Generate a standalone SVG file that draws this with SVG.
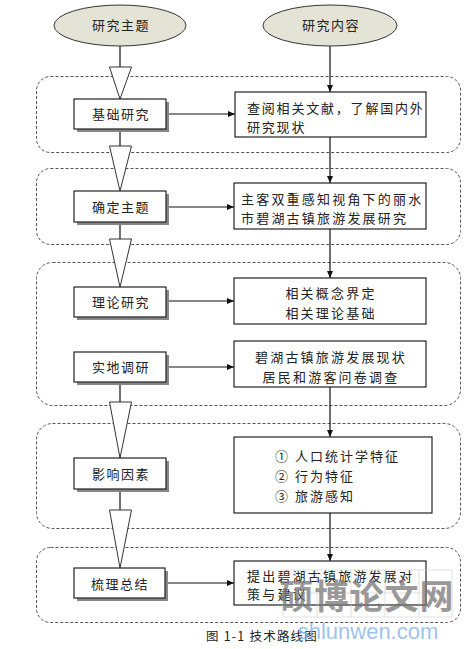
<svg xmlns="http://www.w3.org/2000/svg" width="472" height="649" viewBox="0 0 472 649">
<defs>
<style>
.t{font-family:"Noto Sans CJK SC","Liberation Serif",serif;font-size:13px;fill:#222;letter-spacing:1.5px}
.c{text-anchor:middle}
.grp{fill:none;stroke:#555;stroke-width:1;stroke-dasharray:3,2}
.box{fill:#fff;stroke:#222;stroke-width:1.2}
.sh{fill:#888}
.ln{stroke:#111;stroke-width:1.2;fill:none}
.tri{fill:#fff;stroke:#333;stroke-width:1}
.ell{fill:#e4e4d6;stroke:#333;stroke-width:1}
</style>
<marker id="ah" markerWidth="8" markerHeight="8" refX="7" refY="4" orient="auto" markerUnits="userSpaceOnUse">
<path d="M0,1 L7,4 L0,7 z" fill="#111"/>
</marker>
</defs>
<rect width="472" height="649" fill="#fff"/>

<g id="groups">
<rect class="grp" x="36.5" y="76.5" width="424" height="76" rx="14"/>
<rect class="grp" x="36.5" y="168.5" width="424" height="76" rx="14"/>
<rect class="grp" x="36.5" y="262.5" width="424" height="143" rx="16"/>
<rect class="grp" x="36.5" y="423.5" width="424" height="105" rx="16"/>
<rect class="grp" x="36.5" y="547.5" width="424" height="75" rx="14"/>
</g>

<g id="connectors">
<line class="ln" x1="120" y1="46" x2="120" y2="67"/>
<line class="ln" x1="120" y1="129" x2="120" y2="146"/>
<line class="ln" x1="120" y1="222" x2="120" y2="239"/>
<line class="ln" x1="120" y1="382" x2="120" y2="402"/>
<line class="ln" x1="120" y1="489" x2="120" y2="510"/>
<polygon class="tri" points="109.5,67 131.5,67 120,99"/>
<polygon class="tri" points="109.5,146 131.5,146 120,191"/>
<polygon class="tri" points="109.5,239 131.5,239 120,287"/>
<polygon class="tri" points="109.5,402 131.5,402 120,458"/>
<polygon class="tri" points="109.5,510 131.5,510 120,568"/>
<line class="ln" x1="330" y1="46" x2="330" y2="92" marker-end="url(#ah)"/>
<line class="ln" x1="330" y1="137" x2="330" y2="183" marker-end="url(#ah)"/>
<line class="ln" x1="330" y1="229" x2="330" y2="278" marker-end="url(#ah)"/>
<line class="ln" x1="330" y1="387" x2="330" y2="437" marker-end="url(#ah)"/>
<line class="ln" x1="330" y1="513" x2="330" y2="561" marker-end="url(#ah)"/>
<line class="ln" x1="166" y1="114" x2="235" y2="114" marker-end="url(#ah)"/>
<line class="ln" x1="166" y1="207" x2="234" y2="207" marker-end="url(#ah)"/>
<line class="ln" x1="166" y1="301" x2="234" y2="301" marker-end="url(#ah)"/>
<line class="ln" x1="166" y1="367" x2="234" y2="367" marker-end="url(#ah)"/>
<line class="ln" x1="166" y1="583" x2="234" y2="583" marker-end="url(#ah)"/>
</g>

<g id="topic">
<ellipse class="ell" cx="120" cy="25.5" rx="66" ry="20.5"/>
<text class="t c" x="121" y="30">研究主题</text>
</g>
<g id="content">
<ellipse class="ell" cx="330" cy="25.5" rx="67" ry="20.5"/>
<text class="t c" x="331" y="30">研究内容</text>
</g>

<g id="n1">
<rect class="sh" x="77" y="102" width="92" height="30"/>
<rect class="box" x="74" y="99" width="92" height="30"/>
<text class="t c" x="121" y="119">基础研究</text>
</g>
<g id="r1">
<rect class="box" x="235" y="92" width="191" height="45"/>
<text class="t" x="247" y="113" style="letter-spacing:1.8px">查阅相关文献，了解国内外</text>
<text class="t" x="247" y="132" style="letter-spacing:1.8px">研究现状</text>
</g>

<g id="n2">
<rect class="sh" x="77" y="194" width="92" height="31"/>
<rect class="box" x="74" y="191" width="92" height="31"/>
<text class="t c" x="121" y="212">确定主题</text>
</g>
<g id="r2">
<rect class="box" x="234" y="183" width="192" height="46"/>
<text class="t" x="241" y="204" style="letter-spacing:2.2px">主客双重感知视角下的丽水</text>
<text class="t" x="241" y="223" style="letter-spacing:2.2px">市碧湖古镇旅游发展研究</text>
</g>

<g id="n3">
<rect class="sh" x="77" y="290" width="92" height="30"/>
<rect class="box" x="74" y="287" width="92" height="30"/>
<text class="t c" x="121" y="307">理论研究</text>
</g>
<g id="r3">
<rect class="box" x="234" y="278" width="192" height="46"/>
<text class="t c" x="331" y="298" style="letter-spacing:2.2px">相关概念界定</text>
<text class="t c" x="331" y="318" style="letter-spacing:2.2px">相关理论基础</text>
</g>

<g id="n4">
<rect class="sh" x="77" y="355" width="92" height="30"/>
<rect class="box" x="74" y="352" width="92" height="30"/>
<text class="t c" x="121" y="372">实地调研</text>
</g>
<g id="r4">
<rect class="box" x="234" y="341" width="192" height="46"/>
<text class="t c" x="331" y="362" style="letter-spacing:2.2px">碧湖古镇旅游发展现状</text>
<text class="t c" x="331" y="382" style="letter-spacing:2.2px">居民和游客问卷调查</text>
</g>

<g id="n5">
<rect class="sh" x="77" y="461" width="92" height="31"/>
<rect class="box" x="74" y="458" width="92" height="31"/>
<text class="t c" x="121" y="479">影响因素</text>
</g>
<g id="r5">
<rect class="box" x="234" y="437" width="198" height="76"/>
<text class="t" x="275" y="461" style="letter-spacing:2px">① 人口统计学特征</text>
<text class="t" x="275" y="481" style="letter-spacing:2px">② 行为特征</text>
<text class="t" x="275" y="501" style="letter-spacing:2px">③ 旅游感知</text>
</g>

<g id="n6">
<rect class="sh" x="77" y="571" width="91" height="30"/>
<rect class="box" x="74" y="568" width="91" height="30"/>
<text class="t c" x="120" y="589">梳理总结</text>
</g>
<g id="r6">
<rect class="box" x="234" y="561" width="192" height="44"/>
<text class="t" x="247" y="581" style="letter-spacing:2.2px">提出碧湖古镇旅游发展对</text>
<text class="t" x="247" y="599" style="letter-spacing:2.2px">策与建议</text>
</g>

<g id="caption">
<text x="262" y="641" text-anchor="middle" style="font-family:'Noto Sans CJK SC','Liberation Serif',serif;font-size:12.5px;fill:#222;letter-spacing:1.2px">图 1-1 技术路线图</text>
</g>

<g id="watermark" opacity="0.75">
<g fill="none" stroke="#ccc" stroke-width="0.8">
<rect x="283" y="570" width="169" height="47"/>
<line x1="317" y1="570" x2="317" y2="617"/>
<line x1="351" y1="570" x2="351" y2="617"/>
<line x1="385" y1="570" x2="385" y2="617"/>
<line x1="419" y1="570" x2="419" y2="617"/>
<line x1="283" y1="593" x2="452" y2="593"/>
</g>
<text x="367" y="609" text-anchor="middle" style="font-family:'Noto Sans CJK SC',sans-serif;font-size:34px;font-weight:bold;fill:#777;letter-spacing:1px">硕博论文网</text>
<text x="368" y="639" text-anchor="middle" style="font-family:'Liberation Sans',sans-serif;font-size:22px;fill:#7fb0ea">shlunwen.com</text>
</g>
</svg>
